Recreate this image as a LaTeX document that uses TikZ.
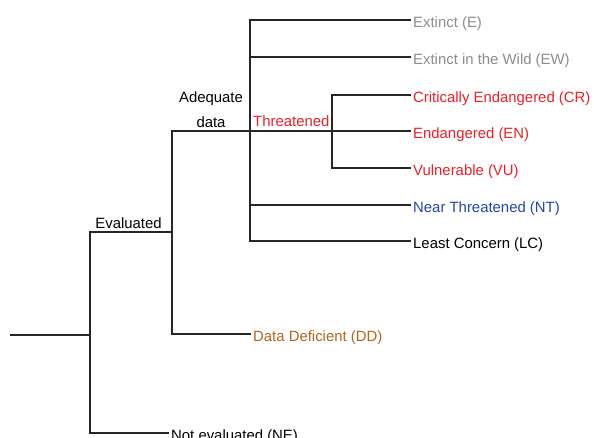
\documentclass[tikz,border=0pt]{standalone}
\usepackage{fontspec}
\setmainfont{Liberation Sans}
\usetikzlibrary{positioning}
\definecolor{extgray}{HTML}{8C8C8C}
\definecolor{thrred}{HTML}{E8202A}
\definecolor{ntblue}{HTML}{2444B0}
\definecolor{ddbrown}{HTML}{B5651D}
\definecolor{linedark}{HTML}{262626}
\tikzset{
	branch/.style={draw=linedark,line width=2.1pt,line cap=rect},
	status/.style={anchor=west,inner xsep=3pt,text height=15pt,text depth=1pt,font=\fontsize{14.9}{18}\selectfont},
	group/.style={inner sep=0pt,font=\fontsize{14.9}{25}\selectfont},
}
\begin{document}
\begin{tikzpicture}[x=1pt,y=-1pt]
		\useasboundingbox (0,0) rectangle (594,437);
		%
		\coordinate (root) at (11,335);
		\coordinate (r1) at (90,335);
		\coordinate (e0) at (90,232);
		\coordinate[right=82pt of e0] (e1);
		\coordinate (adq) at (172,131);
		\coordinate[right=78pt of adq] (a1);
		\coordinate[right=82pt of a1] (t0);
		\coordinate (b1) at (250,241);
		%
		\node[status,text=extgray] (ex) at (410,20) {Extinct (E)};
		\node[status,text=extgray] (ew) at (410,57) {Extinct in the Wild (EW)};
		\node[status,text=thrred] (cr) at (410,95) {Critically Endangered (CR)};
		\node[status,text=thrred] (en) at (410,131) {Endangered (EN)};
		\node[status,text=thrred] (vu) at (410,168) {Vulnerable (VU)};
		\node[status,text=ntblue] (nt) at (410,205) {Near Threatened (NT)};
		\node[status] (lc) at (410,241) {Least Concern (LC)};
		\node[status,text=ddbrown] (dd) at (250,334) {Data Deficient (DD)};
		\node[status] (ne) at (168,433) {Not evaluated (NE)};
		%
		\node[group,anchor=base] (evl) at (128.5,228) {Evaluated};
		\node[group,anchor=south,align=center] (adl) at (211,127.5) {Adequate\\data};
		\node[group,anchor=base west,text=thrred] (thr) at (253,126) {Threatened};
		%
		\draw[branch] (root) -- (r1);
		\draw[branch] (e0) |- (ne.west);
		\draw[branch] (e0) -- (e1);
		\draw[branch] (adq) |- (dd.west);
		\draw[branch] (adq) -- (a1);
		\draw[branch] (ex.west) -| (b1) -- (lc.west);
		\draw[branch] (a1) |- (ew.west);
		\draw[branch] (a1) |- (nt.west);
		\draw[branch] (a1) -- (t0) -- (en.west);
		\draw[branch] (cr.west) -| (t0) |- (vu.west);
\end{tikzpicture}
\end{document}
